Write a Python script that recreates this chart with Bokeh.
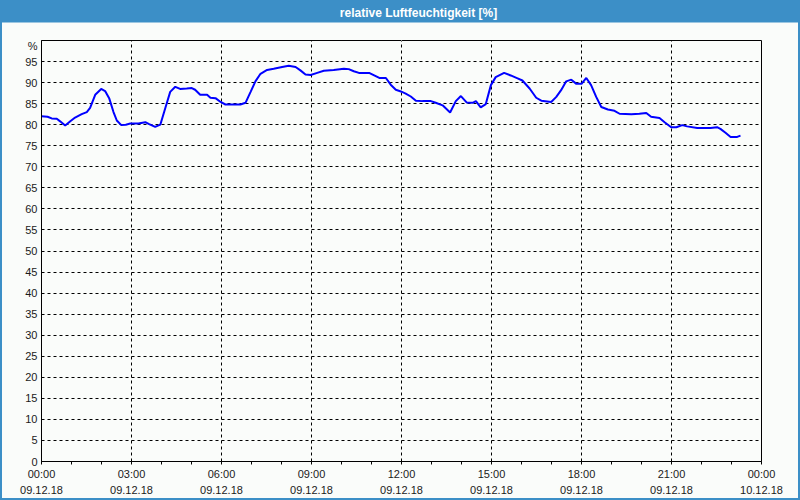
from bokeh.plotting import figure
from bokeh.models import FixedTicker, Range1d, LinearAxis
from bokeh.embed import file_html
from bokeh.resources import INLINE

TITLE = "relative Luftfeuchtigkeit [%]"

# time of day in hours (09.12.18)
hours = [0.0, 0.2, 0.34, 0.51, 0.62, 0.79, 0.96, 1.12, 1.34, 1.51, 1.62, 1.79, 1.99,
         2.12, 2.26, 2.40, 2.51, 2.66, 2.81, 2.96, 3.23, 3.46, 3.57, 3.79, 3.96,
         4.12, 4.29, 4.46, 4.62, 4.84, 5.01, 5.12, 5.29, 5.52, 5.63, 5.80, 5.97,
         6.13, 6.41, 6.63, 6.80, 6.97, 7.13, 7.30, 7.52, 7.74, 8.02, 8.24, 8.47,
         8.63, 8.80, 8.97, 9.19, 9.41, 9.74, 10.08, 10.24, 10.41, 10.58, 10.92,
         11.09, 11.26, 11.48, 11.64, 11.81, 11.98, 12.14, 12.31, 12.48, 12.70,
         12.98, 13.14, 13.37, 13.62, 13.81, 13.98, 14.17, 14.37, 14.48, 14.64,
         14.81, 14.98, 15.14, 15.42, 15.64, 15.87, 16.03, 16.27, 16.49, 16.66,
         16.99, 17.16, 17.32, 17.49, 17.66, 17.83, 18.00, 18.16, 18.32, 18.49,
         18.66, 18.88, 19.10, 19.27, 19.66, 19.93, 20.16, 20.32, 20.60, 20.77,
         20.99, 21.16, 21.36, 21.52, 21.86, 22.30, 22.52, 22.63, 22.80, 22.97,
         23.19, 23.30]

# relative humidity [%]
humidity = [82.0, 81.9, 81.5, 81.4, 80.8, 79.8, 80.8, 81.7, 82.5, 83.0, 84.0, 87.1, 88.5,
            88.0, 86.2, 83.0, 81.0, 79.9, 80.0, 80.3, 80.3, 80.6, 80.2, 79.5, 80.0,
            83.8, 87.8, 89.0, 88.5, 88.6, 88.7, 88.3, 87.1, 87.1, 86.4, 86.3, 85.4,
            84.8, 84.8, 84.8, 85.2, 87.8, 90.3, 92.1, 93.0, 93.3, 93.7, 94.0, 93.7,
            92.9, 91.9, 91.8, 92.3, 92.8, 93.0, 93.3, 93.2, 92.7, 92.3, 92.3,
            91.7, 91.1, 91.1, 89.5, 88.3, 87.9, 87.4, 86.7, 85.7, 85.6,
            85.6, 85.2, 84.6, 82.9, 85.6, 86.8, 85.3, 85.2, 85.6, 84.1,
            84.9, 89.4, 91.3, 92.3, 91.7, 91.0, 90.5, 88.6, 86.4, 85.7,
            85.4, 86.6, 88.2, 90.3, 90.7, 89.7, 89.7, 91.1, 89.4, 86.6,
            84.2, 83.6, 83.3, 82.6, 82.5, 82.6, 82.8, 81.9, 81.6, 80.6,
            79.4, 79.4, 79.9, 79.6, 79.2, 79.2, 79.4, 79.0, 78.1, 77.1,
            77.1, 77.4]

x_ticks = [0, 3, 6, 9, 12, 15, 18, 21, 24]
x_tick_labels = ["00:00\n09.12.18", "03:00\n09.12.18", "06:00\n09.12.18",
                 "09:00\n09.12.18", "12:00\n09.12.18", "15:00\n09.12.18",
                 "18:00\n09.12.18", "21:00\n09.12.18", "00:00\n10.12.18"]
x_minor = [1, 2, 4, 5, 7, 8, 10, 11, 13, 14, 16, 17, 19, 20, 22, 23]
y_ticks = [0, 5, 10, 15, 20, 25, 30, 35, 40, 45, 50, 55, 60, 65, 70, 75, 80, 85, 90, 95]
y_grid = [5, 10, 15, 20, 25, 30, 35, 40, 45, 50, 55, 60, 65, 70, 75, 80, 85, 90, 95]
x_grid = [3, 6, 9, 12, 15, 18, 21]
y_unit = "%"
y_unit_pos = 98.6   # where the unit sign sits beside the y axis

BG = "#fafcfa"
BLUE_BAR = "#3c8fc7"
FONT = "Liberation Sans"
TXT = "#1a1a1a"

p = figure(width=800, height=500, output_backend="svg", toolbar_location=None,
           x_range=Range1d(0, 24), y_range=Range1d(0, 100),
           min_border_left=41, min_border_right=39, min_border_top=40, min_border_bottom=39,
           background_fill_color=BG, border_fill_color=None,
           outline_line_color="black", outline_line_width=1)

p.line(hours, humidity, line_color="#0000ff", line_width=2)

# x axis (bottom)
xa = p.below[0]
xa.ticker = FixedTicker(ticks=x_ticks, minor_ticks=x_minor)
xa.major_label_overrides = {t_: l for t_, l in zip(x_ticks, x_tick_labels)}
xa.axis_line_color = "black"
xa.major_tick_line_color = "black"
xa.minor_tick_line_color = "black"
xa.major_tick_in = 0
xa.major_tick_out = 3
xa.minor_tick_in = 0
xa.minor_tick_out = 3
xa.major_label_standoff = 3
xa.major_label_text_font = FONT
xa.major_label_text_font_size = "11px"
xa.major_label_text_color = TXT
xa.major_label_text_line_height = 1.4

# y axis (unit sign shown as an extra tick label near the top)
ya = p.left[0]
ya.ticker = FixedTicker(ticks=y_ticks + [y_unit_pos], minor_ticks=[])
ya.major_label_overrides = {y_unit_pos: y_unit}
ya.axis_line_color = "black"
ya.major_tick_line_color = None
ya.minor_tick_line_color = None
ya.major_tick_out = 0
ya.major_tick_in = 0
ya.major_label_standoff = 4
ya.major_label_text_font = FONT
ya.major_label_text_font_size = "11px"
ya.major_label_text_color = TXT

# grids
p.xgrid.ticker = FixedTicker(ticks=x_grid)
p.ygrid.ticker = FixedTicker(ticks=y_grid)
for g in (p.xgrid[0], p.ygrid[0]):
    g.grid_line_color = "black"
    g.grid_line_dash = "3 3"
    g.grid_line_width = 1

# spacer between the frame and the title bar: one background-coloured tick, no label
spacer = LinearAxis(ticker=FixedTicker(ticks=[12], minor_ticks=[]),
                    axis_line_color=None, major_tick_line_color=BG,
                    minor_tick_line_color=None, major_tick_in=0, major_tick_out=18,
                    minor_tick_in=0, minor_tick_out=0, major_label_standoff=0,
                    major_label_overrides={12: ""}, major_label_text_font_size="1px",
                    major_label_text_color=None)
p.add_layout(spacer, "above")

# title bar
t = p.title
t.text = TITLE
t.align = "center"
t.offset = 16
t.text_font = FONT
t.text_font_size = "12px"
t.text_font_style = "bold"
t.text_color = "white"
t.standoff = 0
t.background_fill_color = BLUE_BAR
t.padding = dict(left=339, right=305, top=3, bottom=3)

p.styles = {
    "background": "linear-gradient(to bottom, %s 0px, %s 20px, %s 20px, %s 100%%)"
                  % (BLUE_BAR, BLUE_BAR, BG, BG),
    "outline": "2px solid " + BLUE_BAR,
    "outline-offset": "-2px",
}

open("out.html", "w").write(file_html(p, INLINE))
